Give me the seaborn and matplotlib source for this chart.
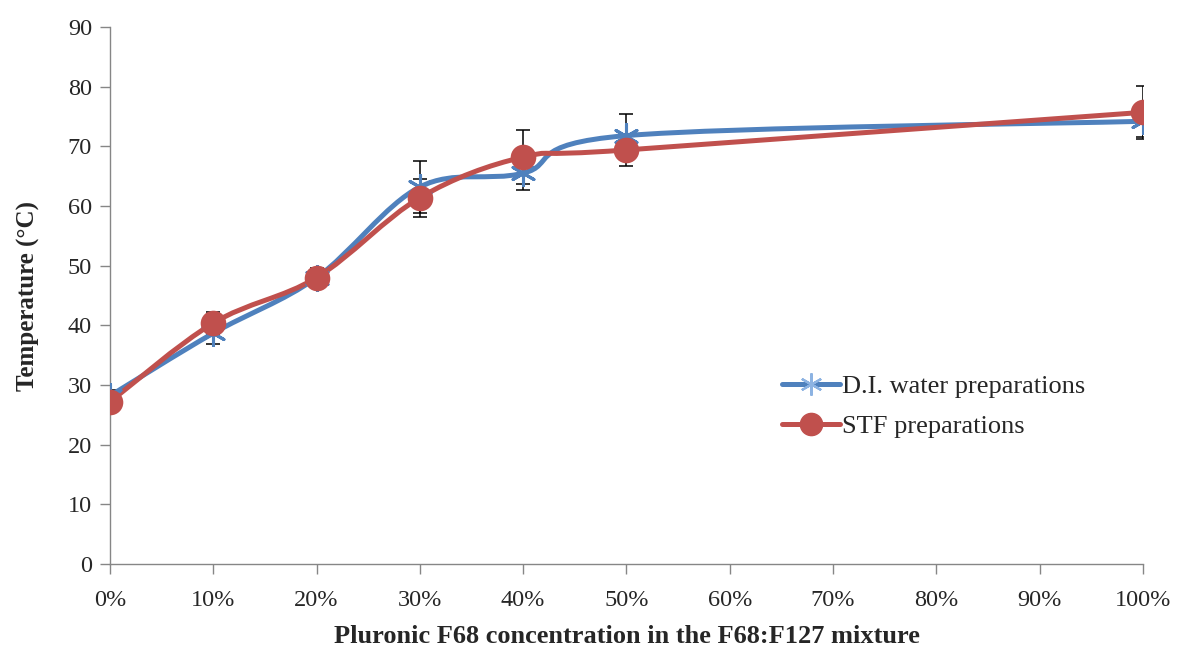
import numpy as np
import pandas as pd
import matplotlib
matplotlib.use("Agg")
import matplotlib.pyplot as plt
import seaborn as sns
from matplotlib.path import Path
from matplotlib.patches import PathPatch
from matplotlib.lines import Line2D

# ---- data ----
concentration = [0, 10, 20, 30, 40, 50, 100]
di_water = [28.2, 38.7, 48.0, 63.2, 65.5, 71.8, 74.2]
di_water_err = [1.0, 1.8, 1.5, 4.3, 2.8, 3.7, 2.6]
stf = [27.2, 40.4, 48.0, 61.4, 68.2, 69.4, 75.7]
stf_err = [1.0, 1.8, 1.6, 3.2, 4.5, 2.7, 4.4]
x_ticks = [0, 10, 20, 30, 40, 50, 60, 70, 80, 90, 100]
y_ticks = [0, 10, 20, 30, 40, 50, 60, 70, 80, 90]
series_names = ["D.I. water preparations", "STF preparations"]

BLUE = "#4F81BD"
RED = "#C0504D"

sns.set_theme(style="white")
plt.rcParams["font.family"] = ["Liberation Serif", "DejaVu Serif"]

fig = plt.figure(figsize=(11.78, 6.51), dpi=100)
ax = fig.add_axes([0.0934, 0.1336, 0.8768, 0.8249])

df = pd.DataFrame({"x": concentration * 2,
                   "y": di_water + stf,
                   "series": [series_names[0]] * 7 + [series_names[1]] * 7})


def smooth_path(xs, ys, tension=1 / 6):
    # Catmull-Rom style Bezier through data points (Excel "smoothed line")
    xs = np.asarray(xs, float)
    ys = np.asarray(ys, float)
    n = len(xs)
    verts = [(xs[0], ys[0])]
    codes = [Path.MOVETO]
    for i in range(n - 1):
        p0 = np.array([xs[max(i - 1, 0)], ys[max(i - 1, 0)]])
        p1 = np.array([xs[i], ys[i]])
        p2 = np.array([xs[i + 1], ys[i + 1]])
        p3 = np.array([xs[min(i + 2, n - 1)], ys[min(i + 2, n - 1)]])
        c1 = p1 + (p2 - p0) * tension
        c2 = p2 - (p3 - p1) * tension
        verts += [tuple(c1), tuple(c2), tuple(p2)]
        codes += [Path.CURVE4] * 3
    return Path(verts, codes)


# error bars
ax.errorbar(concentration, di_water, yerr=di_water_err, fmt="none",
            ecolor="black", elinewidth=1.1, capsize=5, capthick=1.1, zorder=2)
ax.errorbar(concentration, stf, yerr=stf_err, fmt="none",
            ecolor="black", elinewidth=1.1, capsize=5, capthick=1.1, zorder=2)

# smoothed lines
for ys, c in [(di_water, BLUE), (stf, RED)]:
    patch = PathPatch(smooth_path(concentration, ys), facecolor="none",
                      edgecolor=c, lw=3.6, zorder=3, capstyle="round",
                      joinstyle="round")
    ax.add_patch(patch)

# markers via seaborn
star = (6, 2, 0)
sns.scatterplot(data=df[df.series == series_names[0]], x="x", y="y", ax=ax,
                marker=star, s=300, color=BLUE, linewidth=2.2,
                edgecolor=BLUE, zorder=4, legend=False)
sns.scatterplot(data=df[df.series == series_names[1]], x="x", y="y", ax=ax,
                marker="o", s=340, color=RED, linewidth=0, zorder=5,
                legend=False)

ax.set_xlim(0, 100)
ax.set_ylim(0, 90)
ax.set_xticks(x_ticks)
ax.set_xticklabels([f"{t}%" for t in x_ticks])
ax.set_yticks(y_ticks)
ax.tick_params(axis="both", which="both", direction="out", length=7,
               width=1, color="#868686", labelsize=17.5,
               bottom=True, left=True)
ax.tick_params(axis="x", pad=12)
ax.tick_params(axis="y", pad=6)
for s in ["top", "right"]:
    ax.spines[s].set_visible(False)
for s in ["left", "bottom"]:
    ax.spines[s].set_color("#868686")
    ax.spines[s].set_linewidth(1)
ax.margins(0)
for lab in ax.get_xticklabels() + ax.get_yticklabels():
    lab.set_clip_on(False)

ax.set_xlabel("Pluronic F68 concentration in the F68:F127 mixture",
              fontsize=19, fontweight="bold", labelpad=10)
ax.set_ylabel("Temperature (°C)", fontsize=18, fontweight="bold",
              labelpad=20)

handles = [
    Line2D([0], [0], color=BLUE, lw=3.6, marker=star, markersize=16,
           markeredgewidth=1.6, markeredgecolor="#8DB3E2"),
    Line2D([0], [0], color=RED, lw=3.6, marker="o", markersize=16),
]
ax.legend(handles, series_names, loc="upper left",
          bbox_to_anchor=(0.651, 0.352), frameon=False, fontsize=19,
          handlelength=2.2, handletextpad=0.05, labelspacing=0.62,
          borderaxespad=0, borderpad=0)

fig.savefig("out.png", dpi=100)
